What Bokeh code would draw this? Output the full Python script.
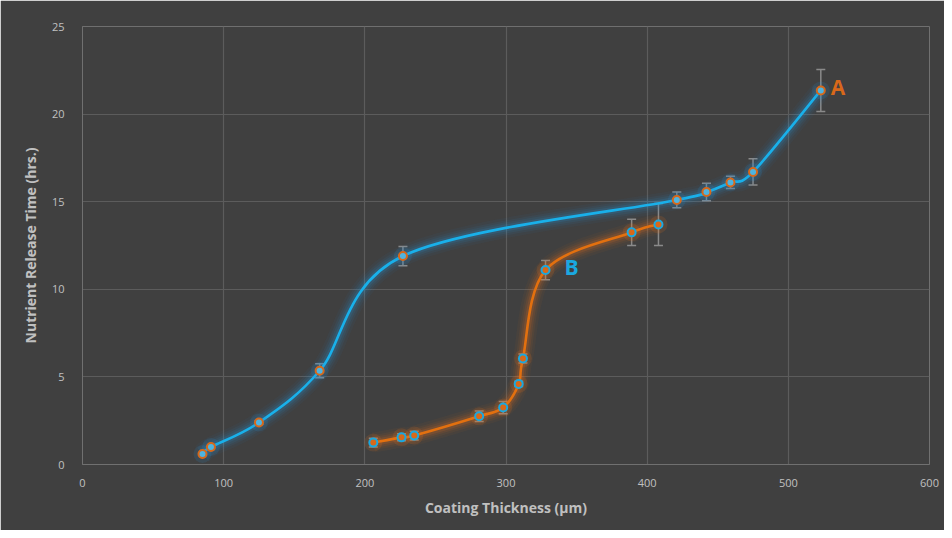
from bokeh.plotting import figure
from bokeh.models import ColumnDataSource, Whisker, TeeHead, Range1d, FixedTicker, Label
from bokeh.embed import file_html
from bokeh.resources import INLINE

# ---- data ----
a_x = [85, 91, 125, 168, 227, 421, 442, 459, 475, 523]
a_y = [0.6, 1.0, 2.4, 5.35, 11.9, 15.1, 15.55, 16.1, 16.7, 21.35]
a_err = [0.0, 0.0, 0.1, 0.4, 0.55, 0.45, 0.5, 0.35, 0.75, 1.2]

b_x = [206, 226, 235, 281, 298, 309, 312, 328, 389, 408]
b_y = [1.25, 1.55, 1.65, 2.75, 3.25, 4.6, 6.05, 11.1, 13.25, 13.7]
b_err = [0.25, 0.2, 0.25, 0.3, 0.35, 0.15, 0.25, 0.55, 0.75, 1.2]

x_ticks = [0, 100, 200, 300, 400, 500, 600]
y_ticks = [0, 5, 10, 15, 20, 25]

BG = "#404040"
BLUE = "#19b0ea"
ORANGE = "#e2700f"
GLOW_BLUE = "#2a8fd0"
GLOW_ORANGE = "#e8701a"
GRID = "#5c5c5c"
TXT = "#c0c0c0"


def smooth_segments(xs, ys):
    """Catmull-Rom style smoothing (like a spreadsheet 'smoothed line'),
    returned as cubic Bezier segment endpoints and control points."""
    n = len(xs)
    out = {k: [] for k in ("x0", "y0", "x1", "y1", "cx0", "cy0", "cx1", "cy1")}
    for i in range(n - 1):
        p0 = max(i - 1, 0)
        p3 = min(i + 2, n - 1)
        out["x0"].append(xs[i]); out["y0"].append(ys[i])
        out["x1"].append(xs[i + 1]); out["y1"].append(ys[i + 1])
        out["cx0"].append(xs[i] + (xs[i + 1] - xs[p0]) / 6.0)
        out["cy0"].append(ys[i] + (ys[i + 1] - ys[p0]) / 6.0)
        out["cx1"].append(xs[i + 1] - (xs[p3] - xs[i]) / 6.0)
        out["cy1"].append(ys[i + 1] - (ys[p3] - ys[i]) / 6.0)
    return ColumnDataSource(out)


p = figure(width=944, height=530, output_backend="svg", toolbar_location=None,
           x_range=Range1d(0, 600), y_range=Range1d(0, 25),
           background_fill_color=BG, border_fill_color=BG,
           min_border_left=82, min_border_right=15, min_border_top=26, min_border_bottom=66)
p.outline_line_color = None

for ax in (p.xaxis[0], p.yaxis[0]):
    ax.axis_line_color = "#707070"
    ax.major_tick_line_color = None
    ax.minor_tick_line_color = None
    ax.major_label_text_color = TXT
    ax.major_label_text_font = "Open Sans"
    ax.major_label_text_font_size = "11px"
    ax.axis_label_text_color = TXT
    ax.axis_label_text_font = "Open Sans"
    ax.axis_label_text_font_size = "14px"
    ax.axis_label_text_font_style = "bold"

p.xaxis.ticker = FixedTicker(ticks=x_ticks)
p.yaxis.ticker = FixedTicker(ticks=y_ticks)
p.xaxis.axis_label = "Coating Thickness (\u00b5m)"
p.yaxis.axis_label = "Nutrient Release Time (hrs.)"
p.xaxis.major_label_standoff = 8
p.yaxis.major_label_standoff = 12
p.xaxis.axis_label_standoff = 8
p.yaxis.axis_label_standoff = 9

p.xgrid.grid_line_color = GRID
p.ygrid.grid_line_color = GRID
p.xgrid.grid_line_width = 1.2
p.ygrid.grid_line_width = 1.2


def draw_series(xs, ys, errs, line_col, glow_col, ring_col, fill_col):
    seg = smooth_segments(xs, ys)
    for w, a in ((20, 0.05), (15, 0.07), (11, 0.1), (7, 0.16)):
        p.bezier(x0="x0", y0="y0", x1="x1", y1="y1", cx0="cx0", cy0="cy0",
                 cx1="cx1", cy1="cy1", source=seg, line_color=glow_col,
                 line_width=w, line_alpha=a)
    p.bezier(x0="x0", y0="y0", x1="x1", y1="y1", cx0="cx0", cy0="cy0",
             cx1="cx1", cy1="cy1", source=seg, line_color=line_col, line_width=2.6)
    # point glows
    p.scatter(xs, ys, size=18, fill_color=glow_col, fill_alpha=0.15, line_color=None)
    # error bars
    ex = [x for x, e in zip(xs, errs) if e > 0]
    lo = [y - e for y, e in zip(ys, errs) if e > 0]
    hi = [y + e for y, e in zip(ys, errs) if e > 0]
    src = ColumnDataSource(dict(x=ex, lower=lo, upper=hi))
    wc = "#8a8a8a"
    p.add_layout(Whisker(base="x", lower="lower", upper="upper", source=src,
                         line_color=wc, line_width=1.5,
                         upper_head=TeeHead(size=9, line_color=wc, line_width=1.5),
                         lower_head=TeeHead(size=9, line_color=wc, line_width=1.5)))
    p.scatter(xs, ys, size=8, fill_color=fill_col, line_color=ring_col, line_width=2)


draw_series(a_x, a_y, a_err, BLUE, GLOW_BLUE, "#d7681a", "#4fb4e0")
draw_series(b_x, b_y, b_err, ORANGE, GLOW_ORANGE, "#1aa8e0", "#d8691a")

p.add_layout(Label(x=523, y=21.35, text="A", x_offset=10, y_offset=-11,
                   text_color="#d8681a", text_font="Open Sans",
                   text_font_style="bold", text_font_size="21px"))
p.add_layout(Label(x=328, y=11.1, text="B", x_offset=19, y_offset=-11,
                   text_color="#1aa8e0", text_font="Open Sans",
                   text_font_style="bold", text_font_size="21px"))

open("out.html", "w").write(file_html(p, INLINE))
